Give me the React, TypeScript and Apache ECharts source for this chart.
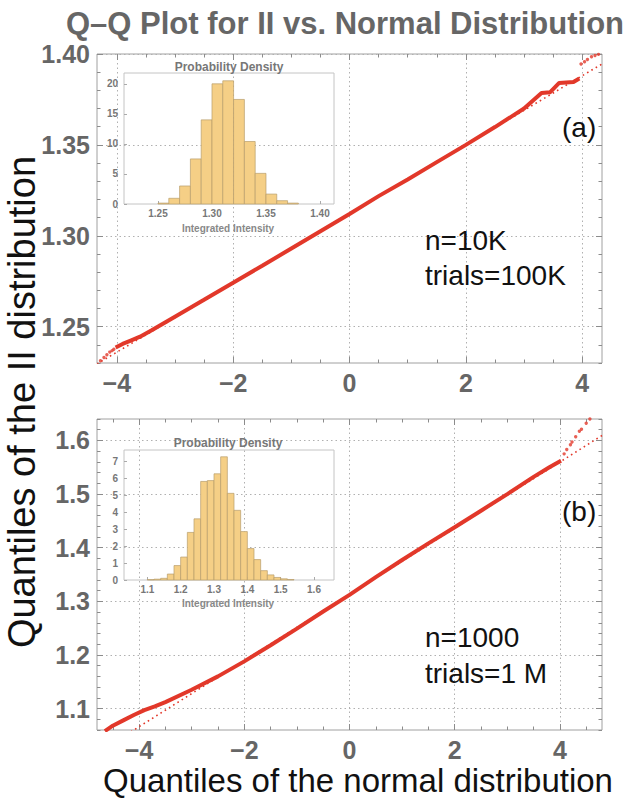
import React, { useEffect, useRef } from "react";
import * as echarts from "echarts";

const FONT = "Liberation Sans";
const TITLE = "Q–Q Plot for II vs. Normal Distribution";
const Y_TITLE = "Quantiles of the II distribution";
const X_TITLE = "Quantiles of the normal distribution";

// ---------- Panel (a) ----------
const A_X_RANGE = [-4.34, 4.34];
const A_Y_RANGE = [1.23, 1.4];
const A_X_MAJOR = [-4, -2, 0, 2, 4];
const A_X_MINOR = [-3.5, -3, -2.5, -1.5, -1, -0.5, 0.5, 1, 1.5, 2.5, 3, 3.5];
const A_Y_MAJOR = [1.25, 1.3, 1.35, 1.4];
const A_Y_MINOR = [1.23, 1.24, 1.26, 1.27, 1.28, 1.29, 1.31, 1.32, 1.33, 1.34, 1.36, 1.37, 1.38, 1.39];
const A_CURVE_X = [-4.02, -3.9, -3.75, -3.6, -3.4, -3.0, -2.5, -2.0, -1.5, -1.0, -0.5, 0, 0.5, 1.0, 1.5, 2.0, 2.5, 3.0, 3.3, 3.45, 3.6, 3.85, 3.95];
const A_CURVE_Y = [1.2385, 1.2405, 1.2425, 1.2445, 1.248, 1.2555, 1.2648, 1.2742, 1.2835, 1.293, 1.3025, 1.312, 1.3218, 1.331, 1.3405, 1.35, 1.3598, 1.37, 1.3785, 1.379, 1.384, 1.3846, 1.3865];
const A_TAIL_X = [-4.33, -4.28, -4.22, -4.17, -4.12, -4.08, -4.05, 3.98, 4.04, 4.09, 4.16, 4.22, 4.28];
const A_TAIL_Y = [1.2298, 1.2312, 1.233, 1.2345, 1.236, 1.2368, 1.2376, 1.3945, 1.3957, 1.397, 1.3985, 1.3992, 1.3998];
const A_REF_X = [-4.34, 4.34];
const A_REF_Y = [1.2295, 1.3945];

// inset (a) histogram
const IA_X_RANGE = [1.2185, 1.413];
const IA_Y_RANGE = [0, 21.8];
const IA_X_TICKS = [1.25, 1.3, 1.35, 1.4];
const IA_Y_TICKS = [0, 5, 10, 15, 20];
const IA_EDGES = [1.25, 1.26, 1.27, 1.28, 1.29, 1.3, 1.31, 1.32, 1.33, 1.34, 1.35, 1.36, 1.37, 1.38];
const IA_HEIGHTS = [0.15, 0.95, 3.0, 7.5, 14.0, 20.0, 20.5, 17.4, 10.4, 5.1, 1.65, 0.55, 0.15];

// ---------- Panel (b) ----------
const B_X_RANGE = [-4.8, 4.8];
const B_Y_RANGE = [1.06, 1.64];
const B_X_MAJOR = [-4, -2, 0, 2, 4];
const B_X_MINOR = [-4.5, -3.5, -3, -2.5, -1.5, -1, -0.5, 0.5, 1, 1.5, 2.5, 3, 3.5, 4.5];
const B_Y_MAJOR = [1.1, 1.2, 1.3, 1.4, 1.5, 1.6];
const B_Y_MINOR = [1.06, 1.08, 1.12, 1.14, 1.16, 1.18, 1.22, 1.24, 1.26, 1.28, 1.32, 1.34, 1.36, 1.38, 1.42, 1.44, 1.46, 1.48, 1.52, 1.54, 1.56, 1.58, 1.62, 1.64];
const B_CURVE_X = [-4.65, -4.5, -4.3, -4.1, -3.9, -3.7, -3.5, -3.0, -2.5, -2.0, -1.5, -1.0, -0.5, 0, 0.5, 1.0, 1.5, 2.0, 2.5, 3.0, 3.5, 3.8, 4.02];
const B_CURVE_Y = [1.058, 1.068, 1.078, 1.088, 1.097, 1.104, 1.112, 1.135, 1.16, 1.188, 1.218, 1.249, 1.281, 1.312, 1.345, 1.377, 1.408, 1.438, 1.469, 1.5, 1.532, 1.55, 1.562];
const B_TAIL_X = [4.08, 4.13, 4.2, 4.23, 4.3, 4.37, 4.41, 4.5, 4.57];
const B_TAIL_Y = [1.575, 1.583, 1.592, 1.597, 1.607, 1.617, 1.621, 1.632, 1.64];
const B_REF_X = [-4.8, 4.8];
const B_REF_Y = [1.0168, 1.6092];

// inset (b) histogram
const IB_X_RANGE = [1.03, 1.66];
const IB_Y_RANGE = [0, 7.65];
const IB_X_TICKS = [1.1, 1.2, 1.3, 1.4, 1.5, 1.6];
const IB_Y_TICKS = [0, 1, 2, 3, 4, 5, 6, 7];
const IB_EDGES = [1.1, 1.12, 1.14, 1.16, 1.18, 1.2, 1.22, 1.24, 1.26, 1.28, 1.3, 1.32, 1.34, 1.36, 1.38, 1.4, 1.42, 1.44, 1.46, 1.48, 1.5, 1.52, 1.54];
const IB_HEIGHTS = [0.02, 0.05, 0.1, 0.35, 0.85, 1.35, 2.8, 3.6, 5.8, 5.85, 6.25, 7.25, 5.1, 4.1, 2.85, 1.85, 1.2, 0.55, 0.3, 0.15, 0.07, 0.03];

const RED = "#e2382a";
const FRAME = "#a0a0a0";
const LABEL = "#666666";

const zip = (xs: number[], ys: number[]) => xs.map((x, i) => [x, ys[i]]);
const minus = (s: string) => s.replace("-", "\u2212");

function mainAxis(dim: "x" | "y", grid: number, pos: string, range: number[], ticks: number[], len: number, opts: any = {}) {
  return {
    type: "value",
    gridIndex: grid,
    position: pos,
    min: range[0],
    max: range[1],
    axisLine: { show: false, onZero: false },
    axisTick: { show: true, inside: true, length: len, customValues: ticks, lineStyle: { color: "#8c8c8c", width: 1 } },
    axisLabel: { show: false },
    splitLine: { show: false },
    ...opts,
  };
}

function labelled(ticks: number[], fmt: (v: number) => string, margin: number) {
  return {
    axisLabel: {
      show: true,
      customValues: ticks,
      formatter: fmt,
      fontFamily: FONT,
      fontWeight: "bold",
      fontSize: 25,
      color: LABEL,
      margin,
    },
    splitLine: { show: true, lineStyle: { color: "#b0b0b0", type: [1.5, 3], width: 1 } },
  };
}

function insetAxis(grid: number, pos: string, range: number[], ticks: number[], fmt: (v: number) => string, margin: number) {
  return {
    type: "value",
    gridIndex: grid,
    position: pos,
    min: range[0],
    max: range[1],
    axisLine: { show: false, onZero: false },
    axisTick: { show: true, inside: true, length: 3, customValues: ticks, lineStyle: { color: "#aaa" } },
    axisLabel: {
      show: true,
      customValues: ticks,
      formatter: fmt,
      fontFamily: FONT,
      fontWeight: "bold",
      fontSize: 10,
      color: "#777",
      margin,
    },
    splitLine: { show: false },
  };
}

function hist(xi: number, yi: number, edges: number[], heights: number[]) {
  return {
    type: "custom",
    xAxisIndex: xi,
    yAxisIndex: yi,
    data: heights.map((h, i) => [edges[i], edges[i + 1], h]),
    encode: { x: [0, 1], y: 2 },
    z: 5,
    renderItem: (params: any, api: any) => {
      const a = api.coord([api.value(0), api.value(2)]);
      const b = api.coord([api.value(1), 0]);
      return {
        type: "rect",
        shape: { x: a[0], y: a[1], width: b[0] - a[0], height: b[1] - a[1] },
        style: { fill: "#f5cf86", stroke: "#b89d6c", lineWidth: 0.7 },
      };
    },
  };
}

export default function App() {
  const ref = useRef<HTMLDivElement>(null);
  useEffect(() => {
    if (!ref.current) return;
    const chart = echarts.init(ref.current, null, { renderer: "svg" });
    const fx = (v: number) => minus(String(v));
    const f2 = (v: number) => v.toFixed(2);
    const f1 = (v: number) => v.toFixed(1);
    const grids = [
      { left: 97, top: 54, width: 505, height: 309, show: true, borderColor: FRAME, borderWidth: 1, backgroundColor: "transparent" },
      { left: 97, top: 419, width: 505, height: 311, show: true, borderColor: FRAME, borderWidth: 1, backgroundColor: "transparent" },
      { left: 124, top: 73, width: 210, height: 131, show: true, borderColor: "#c4c4c4", borderWidth: 1, backgroundColor: "transparent" },
      { left: 124, top: 450, width: 210, height: 130, show: true, borderColor: "#c4c4c4", borderWidth: 1, backgroundColor: "transparent" },
    ];
    const xAxis = [
      mainAxis("x", 0, "bottom", A_X_RANGE, A_X_MAJOR, 6, labelled(A_X_MAJOR, fx, 7)),
      mainAxis("x", 0, "bottom", A_X_RANGE, A_X_MINOR, 3.5),
      mainAxis("x", 0, "top", A_X_RANGE, A_X_MAJOR, 6),
      mainAxis("x", 0, "top", A_X_RANGE, A_X_MINOR, 3.5),
      mainAxis("x", 1, "bottom", B_X_RANGE, B_X_MAJOR, 6, labelled(B_X_MAJOR, fx, 7)),
      mainAxis("x", 1, "bottom", B_X_RANGE, B_X_MINOR, 3.5),
      mainAxis("x", 1, "top", B_X_RANGE, B_X_MAJOR, 6),
      mainAxis("x", 1, "top", B_X_RANGE, B_X_MINOR, 3.5),
      insetAxis(2, "bottom", IA_X_RANGE, IA_X_TICKS, f2, 4),
      insetAxis(3, "bottom", IB_X_RANGE, IB_X_TICKS, f1, 4),
    ];
    const yAxis = [
      mainAxis("y", 0, "left", A_Y_RANGE, A_Y_MAJOR, 6, labelled(A_Y_MAJOR, f2, 7)),
      mainAxis("y", 0, "left", A_Y_RANGE, A_Y_MINOR, 3.5),
      mainAxis("y", 0, "right", A_Y_RANGE, A_Y_MAJOR, 6),
      mainAxis("y", 0, "right", A_Y_RANGE, A_Y_MINOR, 3.5),
      mainAxis("y", 1, "left", B_Y_RANGE, B_Y_MAJOR, 6, labelled(B_Y_MAJOR, f1, 7)),
      mainAxis("y", 1, "left", B_Y_RANGE, B_Y_MINOR, 3.5),
      mainAxis("y", 1, "right", B_Y_RANGE, B_Y_MAJOR, 6),
      mainAxis("y", 1, "right", B_Y_RANGE, B_Y_MINOR, 3.5),
      insetAxis(2, "left", IA_Y_RANGE, IA_Y_TICKS, (v) => String(v), 6),
      insetAxis(3, "left", IB_Y_RANGE, IB_Y_TICKS, (v) => String(v), 6),
    ];
    const refLine = (xi: number, yi: number, d: number[][]) => ({
      type: "line", xAxisIndex: xi, yAxisIndex: yi, data: d, showSymbol: false, symbol: "none", clip: true, z: 2,
      lineStyle: { color: RED, width: 1.6, type: [1.6, 3.4] },
    });
    const curve = (xi: number, yi: number, d: number[][]) => ({
      type: "line", xAxisIndex: xi, yAxisIndex: yi, data: d, showSymbol: false, symbol: "none", clip: true, z: 3,
      lineStyle: { color: RED, width: 4 },
    });
    const tail = (xi: number, yi: number, d: number[][]) => ({
      type: "scatter", xAxisIndex: xi, yAxisIndex: yi, data: d, symbolSize: 3.4, clip: true, z: 3,
      itemStyle: { color: RED },
    });
    const text = (x: number, y: number, t: string, font: string, fill: string, align = "left", extra: any = {}) => ({
      type: "text", x, y, z: 10, ...extra,
      style: { text: t, font, fill, textAlign: align, textVerticalAlign: "middle" },
    });
    chart.setOption({
      animation: false,
      backgroundColor: "#ffffff",
      grid: grids,
      xAxis,
      yAxis,
      series: [
        refLine(0, 0, zip(A_REF_X, A_REF_Y)),
        curve(0, 0, zip(A_CURVE_X, A_CURVE_Y)),
        tail(0, 0, zip(A_TAIL_X, A_TAIL_Y)),
        refLine(4, 4, zip(B_REF_X, B_REF_Y)),
        curve(4, 4, zip(B_CURVE_X, B_CURVE_Y)),
        tail(4, 4, zip(B_TAIL_X, B_TAIL_Y)),
        hist(8, 8, IA_EDGES, IA_HEIGHTS),
        hist(9, 9, IB_EDGES, IB_HEIGHTS),
      ],
      graphic: [
        text(345, 23, TITLE, `bold 31px "${FONT}"`, LABEL, "center"),
        text(229, 67, "Probability Density", `bold 12px "${FONT}"`, "#777", "center"),
        text(228, 228, "Integrated Intensity", `bold 10px "${FONT}"`, "#888", "center"),
        text(228, 443, "Probability Density", `bold 12px "${FONT}"`, "#777", "center"),
        text(228, 603, "Integrated Intensity", `bold 10px "${FONT}"`, "#888", "center"),
        text(562, 127, "(a)", `28px "${FONT}"`, "#111"),
        text(425, 240, "n=10K", `28px "${FONT}"`, "#111"),
        text(425, 275, "trials=100K", `28px "${FONT}"`, "#111"),
        text(562, 511, "(b)", `28px "${FONT}"`, "#111"),
        text(425, 637, "n=1000", `28px "${FONT}"`, "#111"),
        text(425, 673, "trials=1 M", `28px "${FONT}"`, "#111"),
        text(358, 780, X_TITLE, `33px "${FONT}"`, "#111", "center"),
        text(22, 402, Y_TITLE, `38px "${FONT}"`, "#111", "center", { rotation: Math.PI / 2 }),
      ],
    });
    return () => chart.dispose();
  }, []);
  return <div ref={ref} style={{ position: "fixed", left: 0, top: 0, width: 631, height: 804 }} />;
}
